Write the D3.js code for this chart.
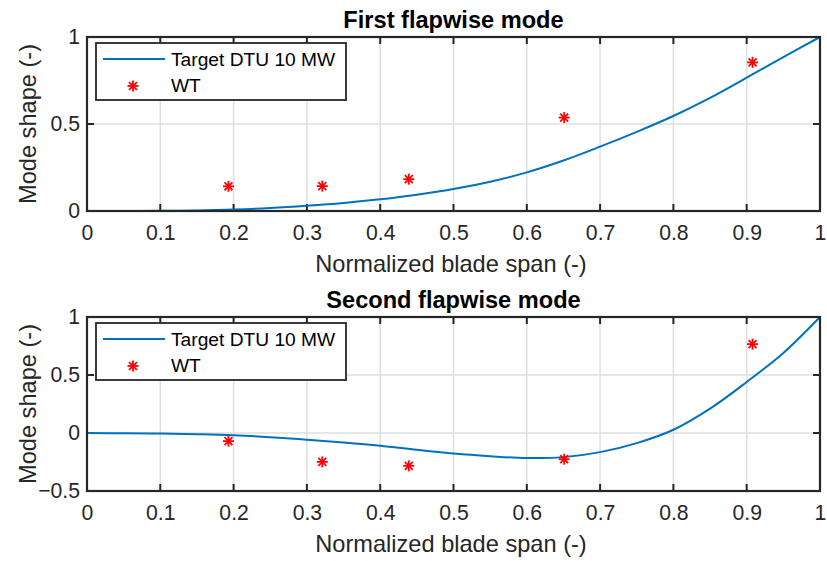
<!DOCTYPE html>
<html><head><meta charset="utf-8">
<script src="https://cdn.jsdelivr.net/npm/d3@7"></script>
<style>body{margin:0;background:#fff}svg{display:block}text{font-family:"Liberation Sans",Arial,sans-serif;fill:#262626}</style>
</head><body><svg id="c" width="827" height="561"></svg>
<script>
// ---- data ----
const xTicks = [0,0.1,0.2,0.3,0.4,0.5,0.6,0.7,0.8,0.9,1];
const curveX = [0,0.05,0.1,0.15,0.2,0.25,0.3,0.35,0.4,0.45,0.5,0.55,0.6,0.65,0.7,0.75,0.8,0.85,0.9,0.95,1];
const mode1Target = [0,0,0.001,0.003,0.008,0.017,0.03,0.046,0.067,0.094,0.126,0.168,0.222,0.29,0.37,0.455,0.546,0.65,0.766,0.885,1];
const mode2Target = [0,-0.002,-0.005,-0.011,-0.02,-0.036,-0.058,-0.082,-0.11,-0.145,-0.177,-0.2,-0.216,-0.208,-0.165,-0.087,0.028,0.21,0.44,0.69,1];
const wtX = [0.193,0.321,0.439,0.651,0.908];
const mode1WT = [0.142,0.143,0.183,0.537,0.854];
const mode2WT = [-0.07,-0.249,-0.283,-0.226,0.766];
const mode1YTicks = [0,0.5,1];
const mode2YTicks = [-0.5,0,0.5,1];
const titles = ["First flapwise mode","Second flapwise mode"];
const legendLabels = ["Target DTU 10 MW","WT"];

const svg = d3.select("#c");
const dark = "#262626";

function star(g, cx, cy, r){
  const s = g.append("g").attr("transform",`translate(${cx},${cy})`);
  [[0,-r,0,r],[-r,0,r,0],[-r*0.72,-r*0.72,r*0.72,r*0.72],[-r*0.72,r*0.72,r*0.72,-r*0.72]].forEach(l=>{
    s.append("line").attr("x1",l[0]).attr("y1",l[1]).attr("x2",l[2]).attr("y2",l[3])
     .attr("stroke","#ff0000").attr("stroke-width",1.8);
  });
}

function panel(top, bottom, yDomain, yTicks, target, wt, title){
  const x = d3.scaleLinear().domain([0,1]).range([87,820]);
  const y = d3.scaleLinear().domain(yDomain).range([bottom,top]);
  const g = svg.append("g");
  // grid
  g.selectAll(".gx").data(xTicks.slice(1,-1)).join("line")
    .attr("x1",d=>x(d)).attr("x2",d=>x(d)).attr("y1",top).attr("y2",bottom)
    .attr("stroke","#dfdfdf").attr("stroke-width",1.5);
  g.selectAll(".gy").data(yTicks.filter(d=>d>yDomain[0]&&d<yDomain[1])).join("line")
    .attr("y1",d=>y(d)).attr("y2",d=>y(d)).attr("x1",87).attr("x2",820)
    .attr("stroke","#dfdfdf").attr("stroke-width",1.5);
  // axes via d3
  const ax = d3.axisBottom(x).tickValues(xTicks).tickSize(0).tickPadding(14).tickFormat(d3.format("~g"));
  const gx = g.append("g").attr("transform",`translate(0,${bottom})`).call(ax);
  gx.select(".domain").remove();
  gx.selectAll("text").attr("font-size",21.2).style("fill",dark).attr("dy","0.71em");
  const ay = d3.axisLeft(y).tickValues(yTicks).tickSize(0).tickPadding(7).tickFormat(d3.format("~g"));
  const gy = g.append("g").attr("transform",`translate(87,0)`).call(ay);
  gy.select(".domain").remove();
  gy.selectAll("text").attr("font-size",21.2).style("fill",dark);
  // tick marks inside (bottom/top/left/right)
  const tl = 7;
  xTicks.slice(1,-1).forEach(t=>{
    g.append("line").attr("x1",x(t)).attr("x2",x(t)).attr("y1",bottom).attr("y2",bottom-tl).attr("stroke",dark).attr("stroke-width",2);
    g.append("line").attr("x1",x(t)).attr("x2",x(t)).attr("y1",top).attr("y2",top+tl).attr("stroke",dark).attr("stroke-width",2);
  });
  yTicks.filter(d=>d>yDomain[0]&&d<yDomain[1]).forEach(t=>{
    g.append("line").attr("x1",87).attr("x2",87+tl).attr("y1",y(t)).attr("y2",y(t)).attr("stroke",dark).attr("stroke-width",2);
    g.append("line").attr("x1",820).attr("x2",820-tl).attr("y1",y(t)).attr("y2",y(t)).attr("stroke",dark).attr("stroke-width",2);
  });
  // curve
  const line = d3.line().x((d,i)=>x(curveX[i])).y(d=>y(d)).curve(d3.curveCatmullRom.alpha(0.5));
  g.append("path").datum(target).attr("d",line).attr("fill","none").attr("stroke","#0072bd").attr("stroke-width",2);
  // box
  g.append("rect").attr("x",87).attr("y",top).attr("width",733).attr("height",bottom-top)
    .attr("fill","none").attr("stroke",dark).attr("stroke-width",2.2);
  // WT stars
  wt.forEach((v,i)=>star(g, x(wtX[i]), y(v), 5.5));
  // title
  g.append("text").attr("x",453.5).attr("y",top-9).attr("text-anchor","middle")
    .attr("font-size",23.6).attr("font-weight","bold").style("fill","#000").text(title);
  // x label
  g.append("text").attr("x",451).attr("y",bottom+61).attr("text-anchor","middle")
    .attr("font-size",23.6).text("Normalized blade span (-)");
  // y label
  g.append("text").attr("transform",`translate(36,${(top+bottom)/2}) rotate(-90)`).attr("text-anchor","middle")
    .attr("font-size",23.6).text("Mode shape (-)");
  // legend
  const lx = 96, ly = top+6;
  g.append("rect").attr("x",lx).attr("y",ly).attr("width",250).attr("height",57)
    .attr("fill","#fff").attr("stroke",dark).attr("stroke-width",1.8);
  g.append("line").attr("x1",lx+7).attr("x2",lx+69).attr("y1",ly+16).attr("y2",ly+16).attr("stroke","#0072bd").attr("stroke-width",2);
  star(g, lx+37, ly+43, 5.5);
  g.append("text").attr("x",lx+75).attr("y",ly+23).attr("font-size",19.2).style("fill","#000").text(legendLabels[0]);
  g.append("text").attr("x",lx+75).attr("y",ly+49).attr("font-size",19.2).style("fill","#000").text(legendLabels[1]);
}

panel(37, 211, [0,1], mode1YTicks, mode1Target, mode1WT, titles[0]);
panel(317, 491, [-0.5,1], mode2YTicks, mode2Target, mode2WT, titles[1]);
</script></body></html>
